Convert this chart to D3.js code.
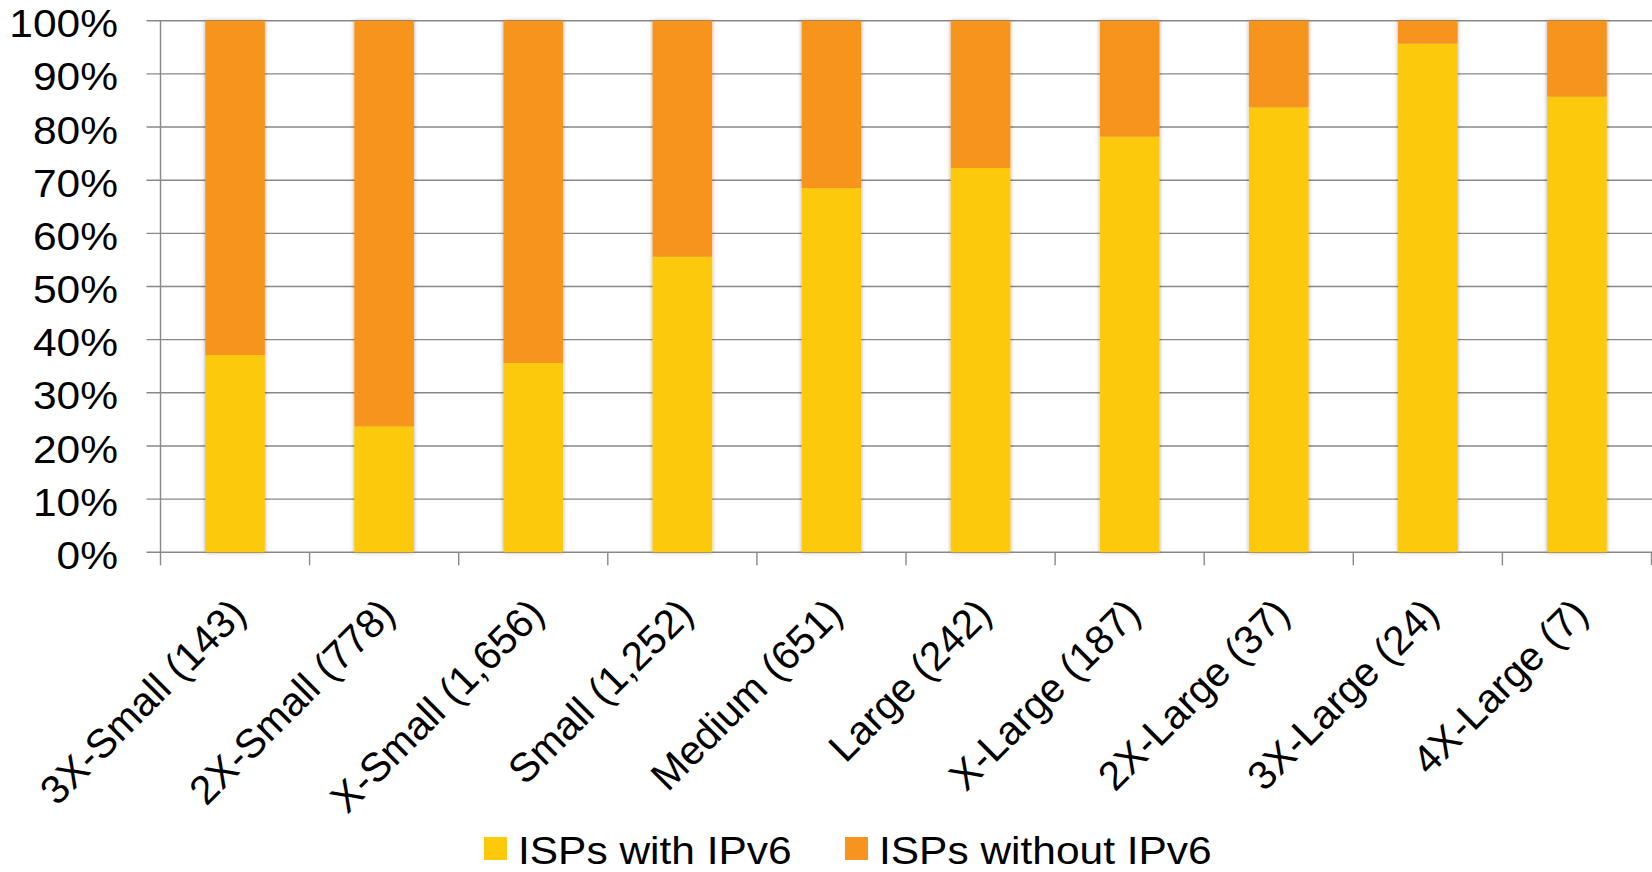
<!DOCTYPE html>
<html>
<head>
<meta charset="utf-8">
<script src="https://cdn.jsdelivr.net/npm/d3@7"></script>
<style>
  html, body { margin: 0; padding: 0; background: #fff; }
  svg { display: block; }
  text { font-family: "Liberation Sans", Arial, Helvetica, sans-serif; fill: #000; }
</style>
</head>
<body>
<svg id="chart" width="1652" height="872"></svg>
<script>
const categories = ["3X-Small (143)", "2X-Small (778)", "X-Small (1,656)", "Small (1,252)", "Medium (651)",
                    "Large (242)", "X-Large (187)", "2X-Large (37)", "3X-Large (24)", "4X-Large (7)"];
const withIPv6 = [37.1, 23.7, 35.6, 55.6, 68.5, 72.3, 78.2, 83.7, 95.7, 85.7];
const withoutIPv6 = withIPv6.map(v => 100 - v);
const seriesNames = ["ISPs with IPv6", "ISPs without IPv6"];
const seriesColors = ["#FDC90A", "#F7941F"];
const yTicks = [0, 10, 20, 30, 40, 50, 60, 70, 80, 90, 100];

(function () {
const W = 1652, H = 872;
const pLeft = 160.5, pRight = 1651.5, pTop = 20.7, pBottom = 552.3;
const svg = d3.select("#chart");

const defs = svg.append("defs");
const f = defs.append("filter").attr("id", "shadow").attr("x", "-30%").attr("y", "-5%").attr("width", "160%").attr("height", "110%");
f.append("feDropShadow").attr("dx", 0).attr("dy", 0).attr("stdDeviation", 2.2).attr("flood-color", "#000").attr("flood-opacity", 0.35);

const x = d3.scaleBand().domain(categories).range([pLeft, pRight]).paddingInner(0.6).paddingOuter(0.3);
const y = d3.scaleLinear().domain([0, 100]).range([pBottom, pTop]);

const gridColor = "#888888";

// gridlines
svg.append("g").selectAll("line").data(yTicks).join("line")
  .attr("x1", pLeft - 14).attr("x2", W)
  .attr("y1", d => y(d)).attr("y2", d => y(d))
  .attr("stroke", gridColor).attr("stroke-width", 1.4);

// y axis line
svg.append("line").attr("x1", pLeft).attr("x2", pLeft).attr("y1", pTop).attr("y2", pBottom + 13)
  .attr("stroke", gridColor).attr("stroke-width", 1.4);

// x ticks at band boundaries
const boundaries = categories.map(c => x(c) - x.step() * x.paddingInner() / 2).concat([pRight]);
svg.append("g").selectAll("line").data(boundaries.slice(1)).join("line")
  .attr("x1", d => d).attr("x2", d => d).attr("y1", pBottom).attr("y2", pBottom + 13)
  .attr("stroke", gridColor).attr("stroke-width", 1.4);

// stacked bars
const stackData = categories.map((c, i) => ({ cat: c, w: withIPv6[i], wo: withoutIPv6[i] }));
const stack = d3.stack().keys(["w", "wo"])(stackData);
const barG = svg.append("g").attr("filter", "url(#shadow)");
stack.forEach((layer, li) => {
  barG.append("g").attr("fill", seriesColors[li]).selectAll("rect").data(layer).join("rect")
    .attr("x", d => x(d.data.cat))
    .attr("width", x.bandwidth())
    .attr("y", d => y(d[1]))
    .attr("height", d => y(d[0]) - y(d[1]));
});

// y labels
svg.append("g").selectAll("text").data(yTicks).join("text")
  .attr("transform", d => `translate(118, ${y(d) + 16.6}) scale(1.09,1)`)
  .attr("text-anchor", "end")
  .attr("font-size", 39)
  .text(d => d + "%");

// x labels
svg.append("g").selectAll("text").data(categories).join("text")
  .attr("transform", d => `translate(${x(d) + x.bandwidth() / 2 + 13}, 616) rotate(-45)`)
  .attr("text-anchor", "end")
  .attr("font-size", 40.5)
  .text(d => d);

// legend
const legendX = [484, 845];
const lg = svg.append("g").selectAll("g").data(seriesNames).join("g")
  .attr("transform", (d, i) => `translate(${legendX[i]}, 837)`);
lg.append("rect").attr("width", 23).attr("height", 23).attr("fill", (d, i) => seriesColors[i]);
lg.append("text").attr("transform", "translate(34, 27) scale(1.1,1)").attr("font-size", 38.6).text(d => d);
})();
</script>
</body>
</html>
